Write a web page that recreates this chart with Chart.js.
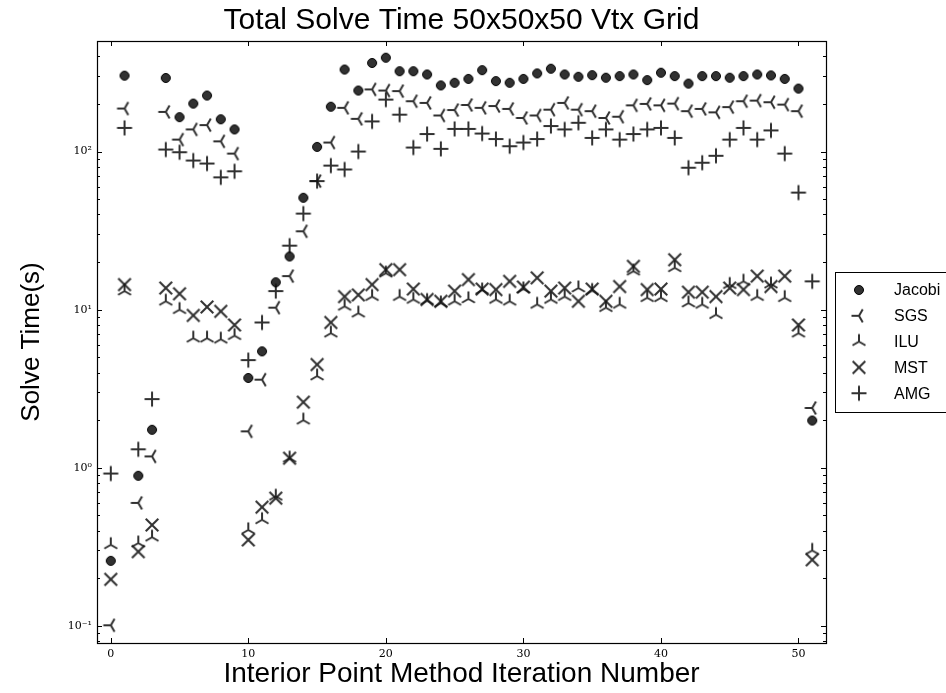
<!DOCTYPE html>
<html>
<head>
<meta charset="utf-8">
<script src="https://cdn.jsdelivr.net/npm/chart.js@4.4.0/dist/chart.umd.min.js"></script>
<style>
  html, body { margin: 0; padding: 0; background: #fff; }
  #wrap { width: 946px; height: 693px; position: relative; overflow: hidden; }
</style>
</head>
<body>
<div id="wrap"><canvas id="solve-chart" width="946" height="693"></canvas></div>
<script>
// Data (solve time in seconds, log axis)
const iterations = [0,1,2,3,4,5,6,7,8,9,10,11,12,13,14,15,16,17,18,19,20,21,22,23,24,25,
  26,27,28,29,30,31,32,33,34,35,36,37,38,39,40,41,42,43,44,45,46,47,48,49,50,51];

const jacobi = [0.258,302,0.89,1.74,292,165,201,226,160,138,3.7,5.45,14.9,21.7,51,107,192,330,243,363,392,
  322,322,307,262,272,288,327,279,272,288,312,334,307,297,304,293,300,307,283,315,300,269,300,300,293,300,307,303,288,250,1.99];

const sgs = [0.101,187,0.60,1.18,178,119,138,147,116,97,1.70,3.61,10.3,16.3,31.3,65,114,189,161,247,243,
  241,208,203,169,183,197,189,194,186,163,169,184,203,184,180,163,166,196,200,196,201,180,186,177,191,208,210,205,198,180,2.39];

const ilu = [0.326,13.1,0.334,0.364,11.3,10.0,6.6,6.6,6.5,6.85,0.405,0.469,0.66,1.15,2.0,3.8,7.1,10.5,9.5,12.1,17.0,
  12.1,11.6,11.4,11.0,11.3,11.7,13.3,11.6,11.3,13.5,10.8,11.6,12.1,13.7,13.2,10.3,10.8,17.5,11.9,11.9,18.4,11.0,10.8,9.3,14.4,15.1,12.1,14.5,11.9,7.1,0.30];

const mst = [0.197,14.4,0.295,0.435,13.7,12.6,9.2,10.4,9.76,8.0,0.35,0.564,0.643,1.15,2.6,4.5,8.3,12.1,12.4,14.4,17.9,
  17.9,13.5,11.6,11.3,13.1,15.5,13.5,13.4,15.1,13.9,15.9,13.1,13.7,11.3,13.5,11.3,14.0,18.8,13.4,13.5,20.7,12.9,12.9,12.1,13.7,13.4,16.3,14.0,16.3,8.0,0.262];

const amg = [0.92,141,1.31,2.72,103,99,87.7,84,68.7,75,4.8,8.3,13.1,25.4,40.5,65,81.5,77,100,155,213,
  171,106,129,104,139,139,130,120,108,114,120,145,138,152,122,138,119,129,138,141,122,79,85,94,119,141,119,136,97,55,15.1];

const seriesNames = ['Jacobi', 'SGS', 'ILU', 'MST', 'AMG'];
const xTickValues = [0, 10, 20, 30, 40, 50];
const yTickValues = [0.1, 1, 10, 100];
const yTickLabels = ['10\u207B\u00B9', '10\u2070', '10\u00B9', '10\u00B2'];

const INK = 'rgba(20,20,20,0.88)';

// matplotlib-like marker glyphs as small canvases, used as pointStyle
function markerCanvas(kind) {
  const c = document.createElement('canvas');
  c.width = 18; c.height = 18;
  const g = c.getContext('2d');
  const m = 9;
  g.strokeStyle = INK;
  g.fillStyle = INK;
  g.lineWidth = 2;
  if (kind === 'circle') {
    g.beginPath(); g.arc(m, m, 4.5, 0, Math.PI * 2); g.fill();
    g.lineWidth = 1; g.strokeStyle = '#000'; g.stroke();
    return c;
  }
  const seg = (dx, dy) => { g.moveTo(m, m); g.lineTo(m + dx, m + dy); };
  g.beginPath();
  if (kind === 'triLeft') { const r = 7.5; seg(-r, 0); seg(r * 0.5, -r * 0.866); seg(r * 0.5, r * 0.866); }
  if (kind === 'triUp')   { const r = 7.5; seg(0, -r); seg(-r * 0.866, r * 0.5); seg(r * 0.866, r * 0.5); }
  if (kind === 'x')       { const r = 6.3; g.moveTo(m - r, m - r); g.lineTo(m + r, m + r); g.moveTo(m + r, m - r); g.lineTo(m - r, m + r); }
  if (kind === 'plus')    { const r = 7.5; g.moveTo(m - r, m); g.lineTo(m + r, m); g.moveTo(m, m - r); g.lineTo(m, m + r); }
  g.stroke();
  return c;
}

const markers = [markerCanvas('circle'), markerCanvas('triLeft'), markerCanvas('triUp'), markerCanvas('x'), markerCanvas('plus')];
const seriesValues = [jacobi, sgs, ilu, mst, amg];

const datasets = seriesNames.map((name, k) => ({
  label: name,
  data: iterations.map((it, i) => ({ x: it, y: seriesValues[k][i] })),
  pointStyle: markers[k],
  pointRadius: 6,
  pointHoverRadius: 6,
  showLine: false,
}));

// frame + inward ticks on all four sides, like the matplotlib axes
const framePlugin = {
  id: 'frame',
  afterDatasetsDraw(chart) {
    const { ctx, chartArea: a, scales: { x, y } } = chart;
    ctx.save();
    ctx.strokeStyle = '#000';
    ctx.lineWidth = 1;
    ctx.beginPath();
    xTickValues.forEach(v => {
      const px = Math.round(x.getPixelForValue(v)) + 0.5;
      ctx.moveTo(px, a.bottom); ctx.lineTo(px, a.bottom - 5);
      ctx.moveTo(px, a.top); ctx.lineTo(px, a.top + 5);
    });
    yTickValues.forEach(v => {
      const py = Math.round(y.getPixelForValue(v)) + 0.5;
      ctx.moveTo(a.left, py); ctx.lineTo(a.left + 5, py);
      ctx.moveTo(a.right, py); ctx.lineTo(a.right - 5, py);
    });
    for (let d = -2; d <= 2; d++) {
      for (let k = 2; k <= 9; k++) {
        const v = k * Math.pow(10, d);
        if (v <= y.min || v >= y.max) continue;
        const py = Math.round(y.getPixelForValue(v)) + 0.5;
        ctx.moveTo(a.left, py); ctx.lineTo(a.left + 3, py);
        ctx.moveTo(a.right, py); ctx.lineTo(a.right - 3, py);
      }
    }
    ctx.stroke();
    ctx.lineWidth = 1.2;
    ctx.strokeRect(a.left + 0.5, a.top + 0.5, a.right - a.left, a.bottom - a.top);
    ctx.restore();
  }
};

// legend box sitting right of the axes, running off the canvas edge
const legendPlugin = {
  id: 'sideLegend',
  afterDraw(chart) {
    const { ctx } = chart;
    const left = 835, top = 272, rowH = 25.8;
    ctx.save();
    ctx.fillStyle = '#fff';
    ctx.fillRect(left, top, 200, 140);
    ctx.strokeStyle = '#000';
    ctx.lineWidth = 1;
    ctx.strokeRect(left + 0.5, top + 0.5, 200, 140);
    ctx.font = '16px "Liberation Sans", Arial, sans-serif';
    ctx.fillStyle = '#000';
    ctx.textBaseline = 'middle';
    seriesNames.forEach((name, k) => {
      const cy = top + 18 + k * rowH;
      const img = markers[k];
      ctx.drawImage(img, 859 - img.width / 2, cy - img.height / 2);
      ctx.fillText(name, 894, cy + 1);
    });
    ctx.restore();
  }
};

const tickFont = { family: '"DejaVu Serif", serif', size: 11 };

new Chart(document.getElementById('solve-chart'), {
  type: 'scatter',
  data: { datasets },
  options: {
    responsive: false,
    animation: false,
    events: [],
    layout: { padding: { left: 0, right: 120, top: 0, bottom: 0 } },
    plugins: {
      legend: { display: false },
      tooltip: { enabled: false },
      title: {
        display: true,
        fullSize: false,
        text: 'Total Solve Time 50x50x50 Vtx Grid',
        color: '#000',
        font: { family: '"Liberation Sans", Arial, sans-serif', size: 30, weight: 'normal' },
        padding: { top: 3, bottom: 2 },
      },
    },
    scales: {
      x: {
        type: 'linear',
        min: -1,
        max: 52,
        afterBuildTicks: s => { s.ticks = xTickValues.map(v => ({ value: v })); },
        afterFit: s => { s.height = 50; },
        grid: { display: false, drawTicks: false },
        border: { display: false },
        ticks: { font: tickFont, color: '#000', padding: 5, autoSkip: false, maxRotation: 0 },
        title: {
          display: true,
          text: 'Interior Point Method Iteration Number',
          color: '#000',
          font: { family: '"Liberation Sans", Arial, sans-serif', size: 28 },
          padding: { top: 0, bottom: 2 },
        },
      },
      y: {
        type: 'logarithmic',
        min: 0.078,
        max: 500,
        afterBuildTicks: s => { s.ticks = yTickValues.map(v => ({ value: v })); },
        afterFit: s => { s.width = 97; },
        grid: { display: false, drawTicks: false },
        border: { display: false },
        ticks: {
          font: tickFont,
          color: '#000',
          padding: 5,
          autoSkip: false,
          callback: v => yTickLabels[yTickValues.indexOf(v)] || '',
        },
        title: {
          display: true,
          text: 'Solve Time(s)',
          color: '#000',
          font: { family: '"Liberation Sans", Arial, sans-serif', size: 26 },
          padding: { top: 16, bottom: 0 },
        },
      },
    },
  },
  plugins: [framePlugin, legendPlugin],
});
</script>
</body>
</html>
